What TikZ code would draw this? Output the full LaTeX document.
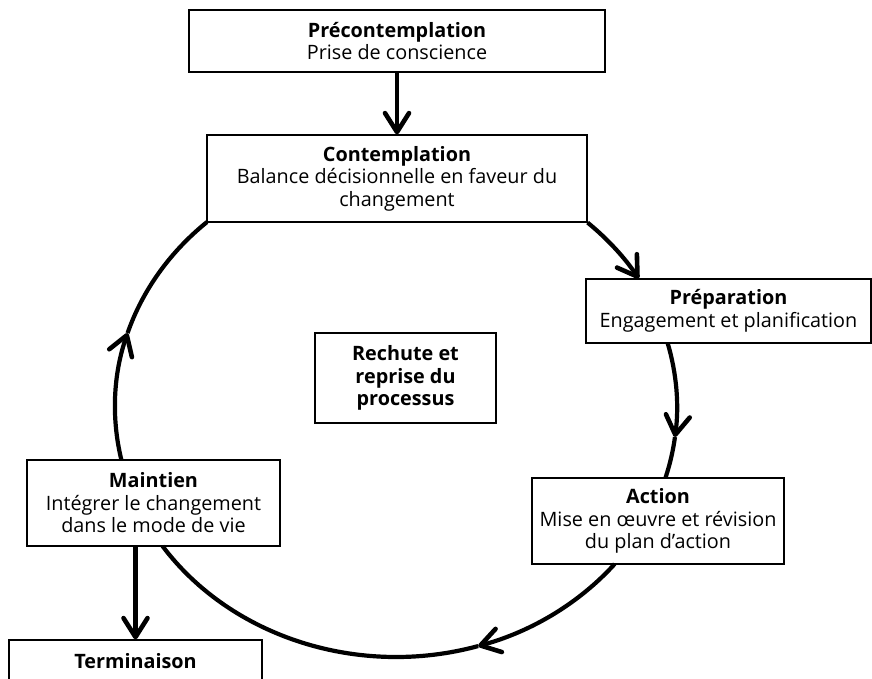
\documentclass[tikz,border=0pt]{standalone}
\usepackage{fontspec}
\setmainfont{Open Sans}
\usetikzlibrary{arrows.meta}
\begin{document}
\begin{tikzpicture}[x=1pt,y=1pt,
    stage/.style={draw,line width=1.2pt,fill=white,inner sep=0pt,align=center,
      font=\fontsize{19.8}{22.5}\selectfont},
    ring/.style={line width=4.2pt},
    barb/.style={-{Straight Barb[length=19pt,width=24pt,line width=4.6pt,round]}}]
  \useasboundingbox[fill=white] (0,0) rectangle (872,679);
  \def\rx{281}
  \def\ry{250}
  \coordinate (O) at (396,272);
  \node[stage,minimum width=416pt,minimum height=62pt] (S0) at (397,638)
    {\textbf{Précontemplation}\\Prise de conscience};
  \node[stage,minimum width=380pt,minimum height=87pt] (S1) at (397,500.5)
    {\textbf{Contemplation}\\Balance décisionnelle en faveur du\\changement};
  \node[stage,minimum width=285pt,minimum height=64pt] (S2) at (728.5,368)
    {\textbf{Préparation}\\Engagement et planification};
  \node[stage,minimum width=252pt,minimum height=86pt] (S3) at (658,158)
    {\textbf{Action}\\Mise en œuvre et révision\\du plan d’action};
  \node[stage,minimum width=253pt,minimum height=86pt] (S4) at (153.5,176)
    {\textbf{Maintien}\\Intégrer le changement\\dans le mode de vie};
  \node[stage,minimum width=253pt,minimum height=42pt] (S5) at (135.5,18)
    {\textbf{Terminaison}};
  \node[stage,minimum width=181pt,minimum height=90pt,
    font=\fontsize{19.8}{22.5}\selectfont\bfseries] (S6) at (405.5,301)
    {Rechute et\\reprise du\\processus};
  \path (S0) edge [ring,barb] (S1);
  \path (S4.south -| S5.north) edge [ring,barb] (S5.north);
  % the cycle
  \draw[ring,barb] (S1.south east)
    arc[start angle=47.4,end angle=30.8,x radius=\rx,y radius=\ry];
  \draw[ring,barb] (O) ++(14.8:281 and 250)
    arc[start angle=14.8,end angle=-6.9,x radius=\rx,y radius=\ry] coordinate (T2);
  \draw[ring] (T2) arc[start angle=-6.9,end angle=-16.5,x radius=\rx,y radius=\ry];
  \draw[ring,barb] (O) ++(-38.9:281 and 250)
    arc[start angle=-38.9,end angle=-73,x radius=\rx,y radius=\ry] coordinate (T3);
  \draw[ring] (T3) arc[start angle=-73,end angle=-146.2,x radius=\rx,y radius=\ry];
  \draw[ring,barb] (O) ++(192.2:281 and 250)
    arc[start angle=192.2,end angle=162.8,x radius=\rx,y radius=\ry] coordinate (T4);
  \draw[ring] (T4) arc[start angle=162.8,end angle=132.3,x radius=\rx,y radius=\ry];
\end{tikzpicture}
\end{document}
